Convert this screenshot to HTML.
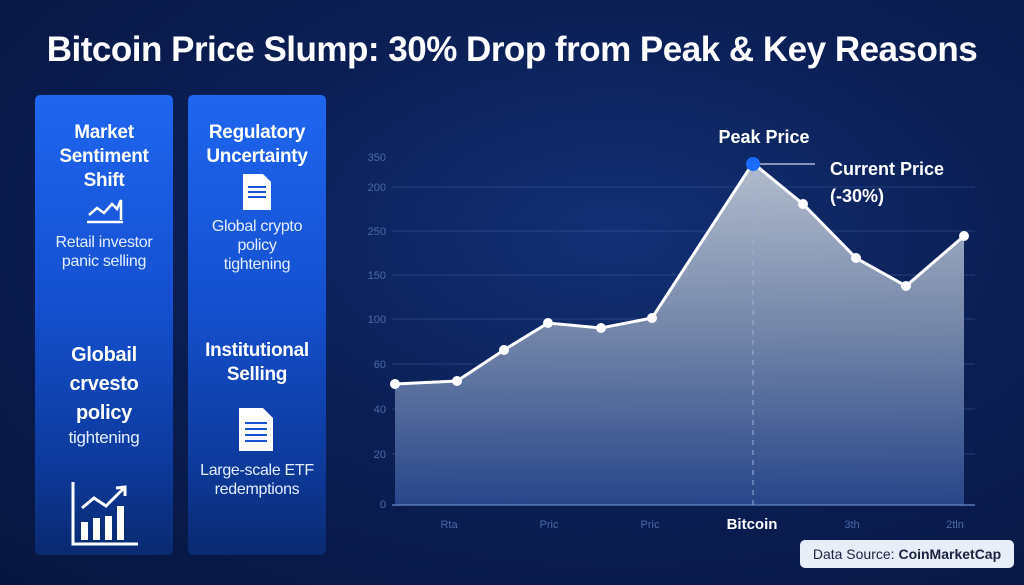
<!DOCTYPE html>
<html><head><meta charset="utf-8"><style>
body{margin:0;width:1024px;height:585px;overflow:hidden;background:radial-gradient(ellipse at 60% 40%,#123076 0%,#0b1f55 45%,#071640 100%);font-family:"Liberation Sans",sans-serif;color:#fff;position:relative}
.t{position:absolute;left:0;width:1024px;top:30px;text-align:center;font-weight:bold;font-size:35px;letter-spacing:-0.5px}
.p{position:absolute;top:95px;height:460px;width:138px;border-radius:5px;background:linear-gradient(180deg,#1f66f0 0%,#1450d0 45%,#0d3a9c 80%,#0a2a70 100%);text-align:center}
.h{position:absolute;left:0;width:100%;font-weight:bold;font-size:19px;line-height:24px;letter-spacing:-0.3px}
.s{position:absolute;left:0;width:100%;font-size:16px;line-height:19px;color:#e6eeff;letter-spacing:-0.3px}
.src{position:absolute;left:800px;top:540px;width:214px;height:28px;border-radius:5px;background:#e8eef8;color:#1a2240;font-size:14px;line-height:28px;text-align:center}
</style></head><body>
<div class="t">Bitcoin Price Slump: 30% Drop from Peak &amp; Key Reasons</div>
<div class="p" style="left:35px">
<div class="h" style="top:26px">Market<br>Sentiment<br>Shift</div>
<svg style="position:absolute;left:50px;top:100px" width="40" height="30"><polyline points="4,20 12,13 19,18 27,9 32,14 36,5 36,25" fill="none" stroke="#fff" stroke-width="2.5"/><line x1="2" y1="27" x2="38" y2="27" stroke="#fff" stroke-width="2.5"/></svg>
<div class="s" style="top:138px">Retail investor<br>panic selling</div>
<div class="h" style="top:246px;font-size:20px;line-height:29px">Globail<br>crvesto<br>policy</div>
<div class="s" style="top:333px;font-size:17px">tightening</div>
<svg style="position:absolute;left:35px;top:385px" width="68" height="68"><polyline points="3,2 3,64 68,64" fill="none" stroke="#fff" stroke-width="3"/><polyline points="12,28 24,18 36,26 54,8" fill="none" stroke="#fff" stroke-width="3"/><polyline points="46,8 55,7 55,16" fill="none" stroke="#fff" stroke-width="3"/><rect x="11" y="42" width="7" height="18" fill="#fff"/><rect x="23" y="38" width="7" height="22" fill="#fff"/><rect x="35" y="36" width="7" height="24" fill="#fff"/><rect x="47" y="26" width="7" height="34" fill="#fff"/></svg>
</div>
<div class="p" style="left:188px">
<div class="h" style="top:26px">Regulatory<br>Uncertainty</div>
<svg style="position:absolute;left:54px;top:78px" width="30" height="38"><path d="M1 1H21L29 9V37H1Z" fill="#fff"/><g stroke="#1450d0" stroke-width="2"><line x1="6" y1="14" x2="24" y2="14"/><line x1="6" y1="19" x2="24" y2="19"/><line x1="6" y1="24" x2="24" y2="24"/></g></svg>
<div class="s" style="top:122px">Global crypto<br>policy<br>tightening</div>
<div class="h" style="top:244px">Institutional<br>Selling</div>
<svg style="position:absolute;left:50px;top:312px" width="36" height="45"><path d="M1 1H25L35 11V44H1Z" fill="#fff"/><g stroke="#1450d0" stroke-width="2"><line x1="7" y1="16" x2="29" y2="16"/><line x1="7" y1="22" x2="29" y2="22"/><line x1="7" y1="28" x2="29" y2="28"/><line x1="7" y1="34" x2="29" y2="34"/></g></svg>
<div class="s" style="top:366px">Large-scale ETF<br>redemptions</div>
</div>
<svg style="position:absolute;left:0;top:0" width="1024" height="585">
<defs><linearGradient id="g" x1="0" y1="0" x2="0" y2="1"><stop offset="0" stop-color="#c4ccd8"/><stop offset="0.5" stop-color="#7d8fb0"/><stop offset="1" stop-color="#2a4a90"/></linearGradient></defs>
<g stroke="#3a5a9a" stroke-opacity="0.5" stroke-width="1">
<line x1="392" y1="187" x2="975" y2="187"/><line x1="392" y1="231" x2="975" y2="231"/><line x1="392" y1="275" x2="975" y2="275"/><line x1="392" y1="319" x2="975" y2="319"/><line x1="392" y1="364" x2="975" y2="364"/><line x1="392" y1="409" x2="975" y2="409"/><line x1="392" y1="454" x2="975" y2="454"/></g>
<path d="M395 384L457 381L504 350L548 323L601 328L652 318L753 163L803 204L856 258L906 286L964 236L964 505L395 505Z" fill="url(#g)" opacity="0.9"/>
<line x1="392" y1="505" x2="975" y2="505" stroke="#5a7ab8" stroke-width="1.5"/>
<line x1="753" y1="170" x2="753" y2="505" stroke="#9ab0d8" stroke-dasharray="5,5" stroke-width="1"/>
<polyline points="395,384 457,381 504,350 548,323 601,328 652,318 753,163 803,204 856,258 906,286 964,236" fill="none" stroke="#fff" stroke-width="3"/>
<g fill="#fff"><circle cx="395" cy="384" r="5"/><circle cx="457" cy="381" r="5"/><circle cx="504" cy="350" r="5"/><circle cx="548" cy="323" r="5"/><circle cx="601" cy="328" r="5"/><circle cx="652" cy="318" r="5"/><circle cx="803" cy="204" r="5"/><circle cx="856" cy="258" r="5"/><circle cx="906" cy="286" r="5"/><circle cx="964" cy="236" r="5"/></g>
<line x1="760" y1="164" x2="815" y2="164" stroke="#cfd8ea" stroke-width="1.2"/>
<circle cx="753" cy="164" r="7" fill="#1a6cff"/>
<g fill="#4a6aa8" font-size="11" text-anchor="end" font-family="Liberation Sans,sans-serif">
<text x="386" y="161">350</text><text x="386" y="191">200</text><text x="386" y="235">250</text><text x="386" y="279">150</text><text x="386" y="323">100</text><text x="386" y="368">60</text><text x="386" y="413">40</text><text x="386" y="458">20</text><text x="386" y="508">0</text></g>
<g fill="#4a6aa8" font-size="11" text-anchor="middle" font-family="Liberation Sans,sans-serif">
<text x="449" y="528">Rta</text><text x="549" y="528">Pric</text><text x="650" y="528">Pric</text><text x="852" y="528">3th</text><text x="955" y="528">2tln</text></g>
<text x="752" y="529" fill="#fff" font-size="15" font-weight="bold" text-anchor="middle" font-family="Liberation Sans,sans-serif">Bitcoin</text>
<text x="764" y="143" fill="#fff" font-size="18" font-weight="bold" text-anchor="middle" font-family="Liberation Sans,sans-serif">Peak Price</text>
<text x="830" y="175" fill="#fff" font-size="18" font-weight="bold" font-family="Liberation Sans,sans-serif">Current Price</text>
<text x="830" y="202" fill="#fff" font-size="18" font-weight="bold" font-family="Liberation Sans,sans-serif">(-30%)</text>
</svg>
<div class="src">Data Source: <b>CoinMarketCap</b></div>
</body></html>
